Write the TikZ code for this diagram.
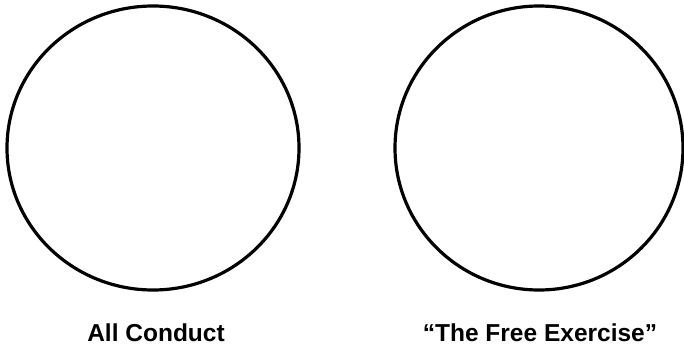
\documentclass[tikz,border=0pt]{standalone}
\usepackage{fontspec}
\setmainfont{Liberation Sans}
\usetikzlibrary{shapes.geometric}
\begin{document}
\begin{tikzpicture}[x=1pt,y=1pt,
  setcircle/.style={draw=black,line width=3.2pt,ellipse,inner sep=0pt},
  setlabel/.style={font=\fontsize{24.5}{28}\selectfont\bfseries,anchor=base,inner sep=0pt}]
\useasboundingbox (0,0) rectangle (684,349);
\node[setcircle,minimum width=292pt,minimum height=284pt] (conduct) at (153,201) {};
\node[setcircle,minimum width=288pt,minimum height=284pt] (exercise) at (539,201) {};
\node[setlabel] (conductlabel) at (156,8) {All Conduct};
\node[setlabel] (exerciselabel) at (540,8) {“The Free Exercise”};
\end{tikzpicture}
\end{document}
